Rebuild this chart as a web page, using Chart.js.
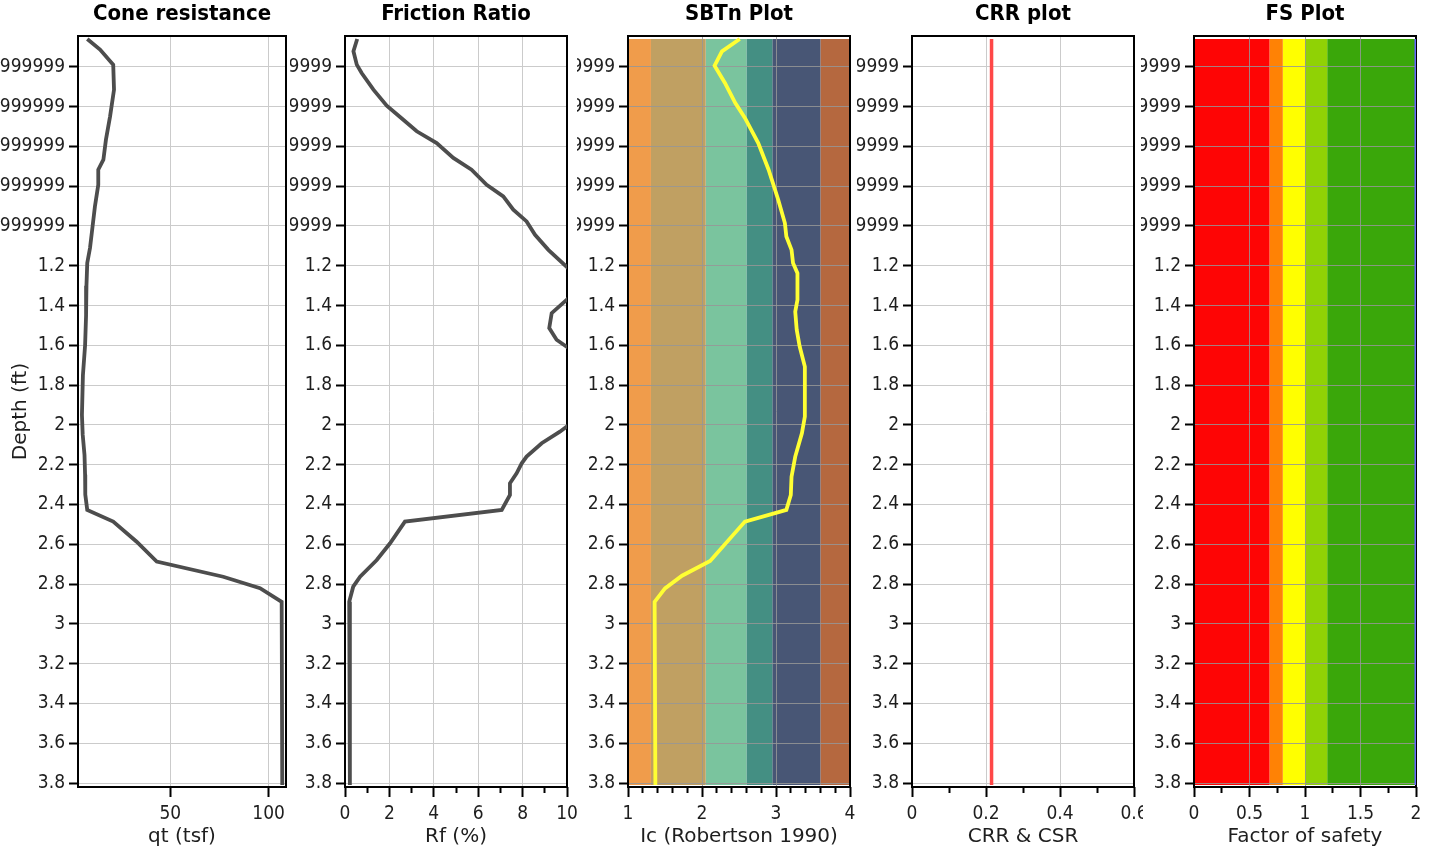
<!DOCTYPE html>
<html><head><meta charset="utf-8">
<script src="https://cdn.jsdelivr.net/npm/chart.js@4.4.0/dist/chart.umd.min.js"></script>
<style>
html,body{margin:0;padding:0;background:#fff;}
body{width:1435px;height:852px;position:relative;overflow:hidden;}
canvas{position:absolute;top:0;}
</style></head><body>
<canvas id="c1"></canvas><canvas id="c2"></canvas><canvas id="c3"></canvas><canvas id="c4"></canvas><canvas id="c5"></canvas>
<script>
// ---------- data ----------
const depthRange = [0.045, 3.82];
const yTicks = [0.2,0.4,0.6,0.8,1.0,1.2,1.4,1.6,1.8,2.0,2.2,2.4,2.6,2.8,3.0,3.2,3.4,3.6,3.8];
const yTickLabels = ['0.19999999999999999','0.39999999999999999','0.59999999999999999','0.79999999999999999','0.99999999999999999',
  '1.2','1.4','1.6','1.8','2','2.2','2.4','2.6','2.8','3','3.2','3.4','3.6','3.8'];

const qtDepth  = [0.06,0.113,0.189,0.315,0.449,0.566,0.667,0.717,0.793,0.902,1.036,1.111,1.186,1.30,1.45,1.60,1.75,1.95,2.05,2.15,2.25,2.35,2.427,2.486,2.587,2.687,2.763,2.821,2.889,3.81];
const qtValues = [7.8,14.3,21.0,21.4,19.4,17.3,16.0,13.4,13.4,11.7,10.1,9.2,7.8,7.4,7.2,6.7,5.6,5.1,5.5,6.4,6.7,6.8,7.8,21.0,32.9,43.1,76.9,95.6,106.6,106.9];

const rfDepth  = [0.06,0.122,0.189,0.231,0.315,0.395,0.452,0.524,0.583,0.658,0.717,0.793,0.851,0.918,0.977,1.044,1.12,1.29,1.438,1.513,1.572,1.80,2.034,2.092,2.159,2.193,2.243,2.293,2.352,2.427,2.486,2.595,2.679,2.763,2.813,2.889,3.81];
const rfValues = [0.55,0.38,0.53,0.75,1.28,1.88,2.48,3.23,4.13,4.88,5.70,6.38,7.13,7.58,8.18,8.56,9.16,10.8,9.31,9.20,9.53,12.5,9.68,8.86,8.18,7.96,7.73,7.43,7.43,7.06,2.70,2.03,1.43,0.68,0.37,0.19,0.22];

const icDepth  = [0.06,0.122,0.194,0.281,0.382,0.457,0.583,0.717,0.868,0.985,1.053,1.12,1.186,1.237,1.371,1.43,1.522,1.606,1.707,1.958,2.042,2.159,2.26,2.352,2.427,2.486,2.684,2.758,2.822,2.889,3.81];
const icValues = [2.51,2.27,2.17,2.31,2.45,2.58,2.76,2.90,3.03,3.12,3.14,3.21,3.23,3.29,3.29,3.26,3.28,3.32,3.39,3.39,3.35,3.26,3.21,3.20,3.14,2.58,2.11,1.73,1.50,1.36,1.37];

const crrDepth  = [0.06, 3.81];
const crrValues = [0.215, 0.215];
const fsDepth   = [0.06, 3.81];
const fsValues  = [2, 2];

const bandDepth = [0.06, 3.81];
const sbtBounds = [1.31, 2.05, 2.60, 2.95, 3.60, 4.0];
const sbtColors = ['#F09C4B','#C0A062','#7AC49E','#448F83','#485675','#B5683F'];
const fsBounds  = [0.68, 0.80, 1.0, 1.2, 2.0];
const fsColors  = ['#FE0505','#FF8205','#FFFF00','#90D205','#3AA70A'];

const qtTicks = [50,100];            const qtTickLabels = ['50','100'];
const rfTicks = [0,2,4,6,8,10];      const rfTickLabels = ['0','2','4','6','8','10'];
const rfMinor = [1,3,5,7,9];
const icTicks = [1,2,3,4];           const icTickLabels = ['1','2','3','4'];
const icMinor = [1.2,1.4,1.6,1.8,2.2,2.4,2.6,2.8,3.2,3.4,3.6,3.8];
const crrTicks = [0,0.2,0.4,0.6];    const crrTickLabels = ['0','0.2','0.4','0.6'];
const crrMinor = [0.1,0.3,0.5];
const fsTicks = [0,0.5,1,1.5,2];     const fsTickLabels = ['0','0.5','1','1.5','2'];
const fsMinor = [0.25,0.75,1.25,1.75];

// ---------- drawing ----------
const FONT = "'DejaVu Sans Condensed', 'Liberation Sans', sans-serif";
const FONT_WIDE = "'DejaVu Sans', 'Liberation Sans', sans-serif";
const TXT = '#1e1e1e';

const framePlugin = {
  id: 'frame',
  beforeDatasetsDraw(chart) {
    const {ctx, chartArea: a} = chart;
    ctx.save();
    ctx.strokeStyle = '#000';
    ctx.lineWidth = 2;
    ctx.strokeRect(a.left, a.top, a.right - a.left, a.bottom - a.top);
    ctx.restore();
  }
};

function lineSet(depths, values, color, width) {
  return {
    data: depths.map((d, i) => ({x: values[i], y: d})),
    borderColor: color, borderWidth: width, pointRadius: 0, fill: false, tension: 0
  };
}
function bandSets(bounds, colors, xMin) {
  return bounds.map((b, i) => ({
    data: bandDepth.map(d => ({x: b, y: d})),
    borderColor: 'rgba(0,0,0,0)', borderWidth: 0, pointRadius: 0,
    backgroundColor: colors[i],
    fill: i === 0 ? {value: xMin} : '-1'
  }));
}

function panel(p) {
  const cv = document.getElementById(p.id);
  cv.width = p.W; cv.height = 852;
  cv.style.left = p.L + 'px';
  cv.style.width = p.W + 'px'; cv.style.height = '852px';
  const scales = {
    y: {
      type: 'linear', reverse: true, min: depthRange[0], max: depthRange[1], bounds: 'data',
      afterBuildTicks: s => { s.ticks = yTicks.map(v => ({value: v})); },
      afterFit: s => { s.width = p.A; s.paddingTop = 0; s.paddingBottom = 0; },
      ticks: {autoSkip: false, padding: 4, color: TXT, font: {family: FONT, size: 19},
              callback: (v, i) => yTickLabels[i]},
      grid: {color: p.grid, lineWidth: 1, tickColor: '#000', tickLength: 9, tickWidth: 2},
      border: {display: false},
      title: p.yTitle ? {display: true, text: p.yTitle, color: TXT, font: {family: FONT_WIDE, size: 20}, padding: {top: 9}} : {display: false}
    },
    x: {
      type: 'linear', position: 'bottom', weight: 1, min: p.xMin, max: p.xMax, bounds: 'data',
      afterBuildTicks: s => { s.ticks = p.xTicks.map(v => ({value: v})); },
      afterFit: s => { s.height = 65; s.paddingLeft = 0; s.paddingRight = 0; },
      ticks: {autoSkip: false, maxRotation: 0, padding: 6, color: TXT, font: {family: FONT, size: 19},
              callback: (v, i) => p.xTickLabels[i]},
      grid: {color: p.grid, lineWidth: 1, tickColor: '#000', tickLength: 10, tickWidth: 2},
      border: {display: false},
      title: {display: true, text: p.xTitle, color: TXT, font: {family: FONT_WIDE, size: 20}, padding: {top: 0, bottom: 3}}
    }
  };
  if (p.xMinor) {
    scales.xMinor = {
      type: 'linear', axis: 'x', position: 'bottom', weight: 0, min: p.xMin, max: p.xMax, bounds: 'data',
      afterBuildTicks: s => { s.ticks = p.xMinor.map(v => ({value: v})); },
      afterFit: s => { s.height = 0; s.paddingLeft = 0; s.paddingRight = 0; },
      ticks: {display: false},
      grid: {drawOnChartArea: false, tickColor: '#000', tickLength: 6, tickWidth: 2},
      border: {display: false}
    };
  }
  new Chart(cv, {
    type: 'line',
    data: {datasets: p.datasets},
    options: {
      indexAxis: 'y',
      responsive: false, animation: false, devicePixelRatio: 1,
      layout: {padding: {left: 0, right: p.R, top: 0, bottom: 0}},
      plugins: {
        legend: {display: false}, tooltip: {enabled: false},
        filler: {drawTime: 'beforeDraw'},
        title: {display: true, text: p.title, fullSize: false, color: '#000',
                font: {family: FONT, size: 22, weight: 'bold'}, padding: {top: 1.5, bottom: 8.1}}
      },
      scales
    },
    plugins: [framePlugin]
  });
}

const LIGHT = '#cbcbcb';
const DARK = 'rgba(150,150,150,0.85)';

panel({id: 'c1', L: 0, W: 290, A: 78, R: 4, grid: LIGHT, yTitle: 'Depth (ft)',
  title: 'Cone resistance', xTitle: 'qt (tsf)', xMin: 3.1, xMax: 108.8,
  xTicks: qtTicks, xTickLabels: qtTickLabels, xMinor: null,
  datasets: [lineSet(qtDepth, qtValues, '#4d4d4d', 3.8)]});

panel({id: 'c2', L: 290, W: 292, A: 55, R: 15, grid: LIGHT,
  title: 'Friction Ratio', xTitle: 'Rf (%)', xMin: 0, xMax: 10,
  xTicks: rfTicks, xTickLabels: rfTickLabels, xMinor: rfMinor,
  datasets: [lineSet(rfDepth, rfValues, '#4d4d4d', 3.8)]});

panel({id: 'c3', L: 577, W: 285, A: 51, R: 12, grid: DARK,
  title: 'SBTn Plot', xTitle: 'Ic (Robertson 1990)', xMin: 1, xMax: 4,
  xTicks: icTicks, xTickLabels: icTickLabels, xMinor: icMinor,
  datasets: [lineSet(icDepth, icValues, '#FFFF33', 3.8)].concat(bandSets(sbtBounds, sbtColors, 1))});

panel({id: 'c4', L: 857, W: 286, A: 55, R: 9, grid: LIGHT,
  title: 'CRR plot', xTitle: 'CRR & CSR', xMin: 0, xMax: 0.6,
  xTicks: crrTicks, xTickLabels: crrTickLabels, xMinor: crrMinor,
  datasets: [lineSet(crrDepth, crrValues, '#FF4747', 3.5)]});

panel({id: 'c5', L: 1141, W: 294, A: 53, R: 19, grid: DARK,
  title: 'FS Plot', xTitle: 'Factor of safety', xMin: 0, xMax: 2,
  xTicks: fsTicks, xTickLabels: fsTickLabels, xMinor: fsMinor,
  datasets: [lineSet(fsDepth, fsValues, '#6464FF', 3)].concat(bandSets(fsBounds, fsColors, 0))});
</script>
</body></html>
